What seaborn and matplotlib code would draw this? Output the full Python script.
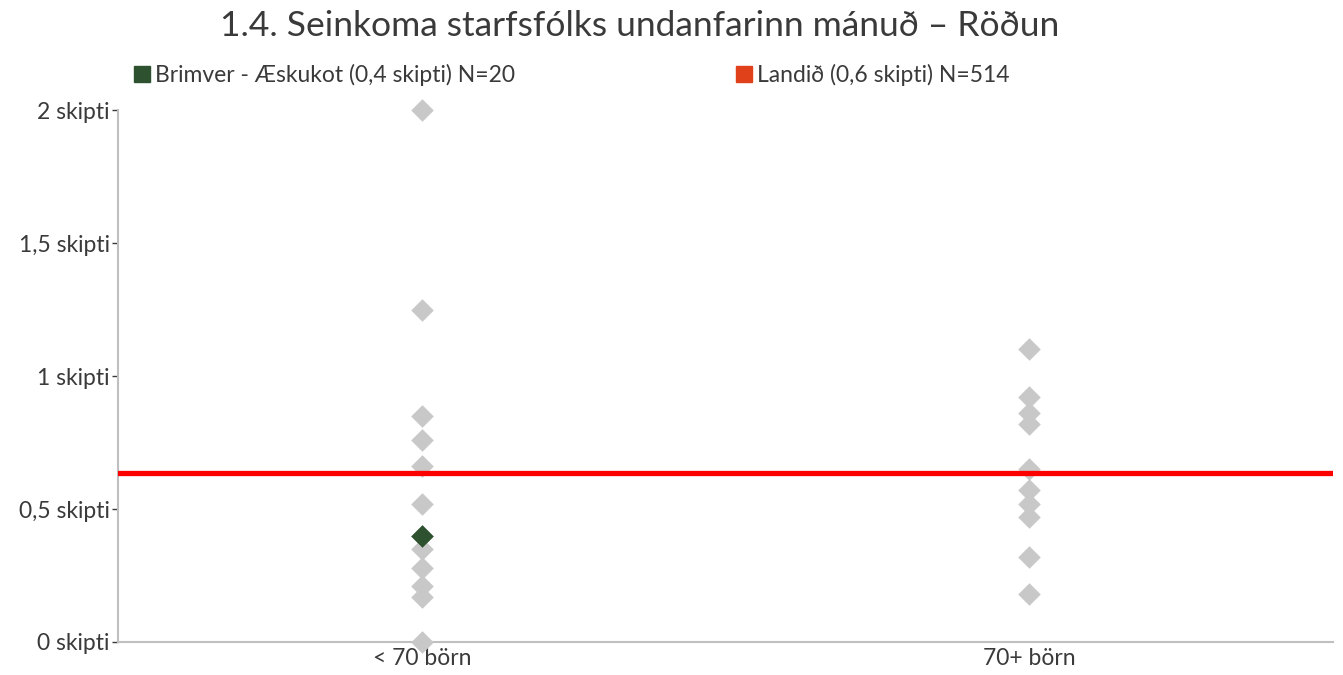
import matplotlib
matplotlib.use("Agg")
import matplotlib.pyplot as plt
import seaborn as sns
import pandas as pd
from matplotlib.lines import Line2D

# data
categories = ["< 70 börn", "70+ börn"]
small_vals = [2.0, 1.25, 0.85, 0.76, 0.66, 0.52, 0.40, 0.35, 0.28, 0.21, 0.17, 0.0]
large_vals = [1.10, 0.92, 0.86, 0.82, 0.65, 0.57, 0.52, 0.47, 0.32, 0.18]
highlight_cat = "< 70 börn"
highlight_val = 0.40
national_avg = 0.635
yticks = [0, 0.5, 1, 1.5, 2]
ytick_labels = ["0 skipti", "0,5 skipti", "1 skipti", "1,5 skipti", "2 skipti"]
title = "1.4. Seinkoma starfsfólks undanfarinn mánuð – Röðun"
legend_school = "Brimver - Æskukot (0,4 skipti) N=20"
legend_land = "Landið (0,6 skipti) N=514"

df = pd.DataFrame({
    "hopur": [categories[0]] * len(small_vals) + [categories[1]] * len(large_vals),
    "gildi": small_vals + large_vals,
})

sns.set_theme(style="white")
plt.rcParams["font.family"] = ["Lato", "DejaVu Sans"]
txt = "#3A3A3A"
grey = "#C8C8C8"
green = "#2E5230"
red = "#FF0000"

fig = plt.figure(figsize=(13.43, 6.75), dpi=100)
ax = fig.add_axes([0.0879, 0.0489, 0.9047, 0.7881])

sns.stripplot(data=df, x="hopur", y="gildi", order=categories, jitter=False,
              marker="D", s=11.5, color=grey, linewidth=0, ax=ax, clip_on=False, zorder=3)
ax.axhline(national_avg, color=red, lw=3.8, zorder=4)
sns.stripplot(x=[highlight_cat], y=[highlight_val], order=categories, jitter=False,
              marker="D", s=11.5, color=green, linewidth=0, ax=ax, clip_on=False, zorder=5)

ax.set_xlim(-0.5, 1.5)
ax.set_ylim(0, 2)
ax.set_yticks(yticks)
ax.set_yticklabels(ytick_labels, fontsize=16.5, color=txt)
ax.tick_params(axis="y", length=4, width=1, color=txt, pad=2, left=True)
ax.tick_params(axis="x", length=0, pad=4, labelsize=16.5, labelcolor=txt)
ax.set_xlabel("")
ax.set_ylabel("")
for s in ["top", "right"]:
    ax.spines[s].set_visible(False)
for s in ["left", "bottom"]:
    ax.spines[s].set_color("#BFBFBF")
    ax.spines[s].set_linewidth(1.5)

fig.text(0.476, 0.962, title, ha="center", va="center", fontsize=25.5, color=txt)

h1 = Line2D([], [], marker="s", ls="", color=green, markersize=12)
h2 = Line2D([], [], marker="s", ls="", color="#E0401A", markersize=12)
leg1 = fig.legend([h1], [legend_school], loc="center left", bbox_to_anchor=(0.083, 0.889),
                  frameon=False, fontsize=16.5, handletextpad=0.1, handlelength=0.9,
                  labelcolor=txt)
leg2 = fig.legend([h2], [legend_land], loc="center left", bbox_to_anchor=(0.531, 0.889),
                  frameon=False, fontsize=16.5, handletextpad=0.1, handlelength=0.9,
                  labelcolor=txt)

fig.savefig("out.png", dpi=100)
